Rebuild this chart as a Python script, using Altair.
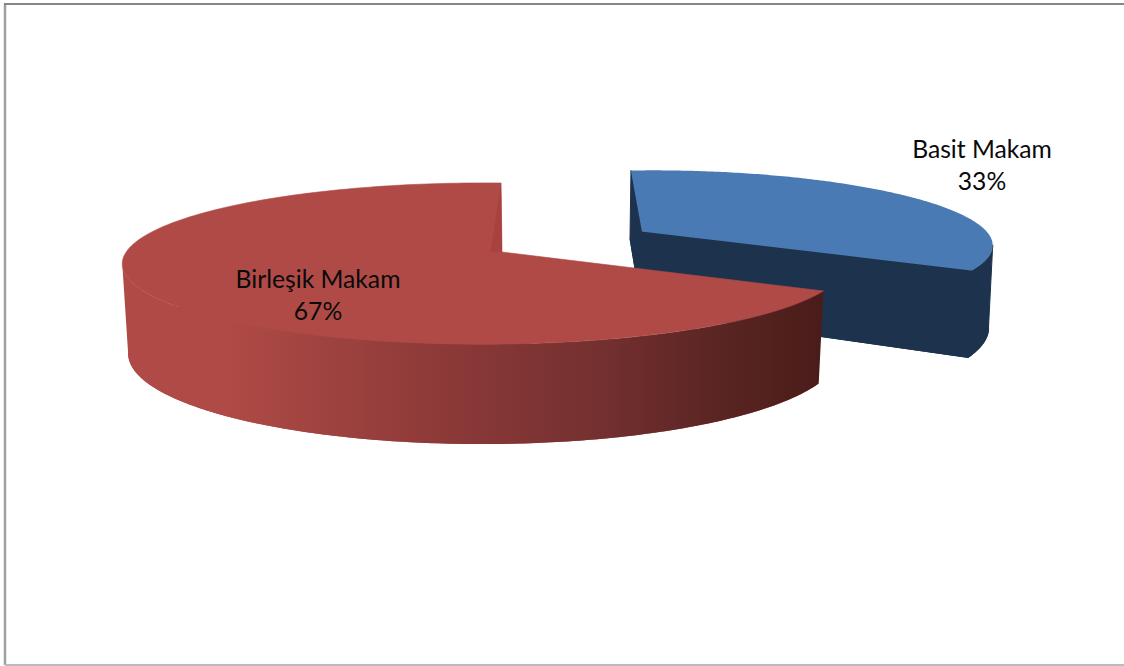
import numpy as np
import pandas as pd
import altair as alt

# Pie contents
categories = ["Basit Makam", "Birleşik Makam"]
shares = [33, 67]
label_x = [982, 318]
label_y = [151, 281]

W, H = 1124, 666
split = 360 * shares[0] / sum(shares)

# Perspective view of each disc: canvas centre, x radius, y radius, depth skew,
# and how strongly the front (k) and right-hand (m) sides swell towards the viewer.
red_top = dict(cx=502, cy=252, r=357, b=78.9, s=1.1, k=0.143, m=-0.05)
red_low = dict(cx=505.5, cy=340, r=351, b=89.0, s=1.1, k=0.143, m=-0.06)
blue_top = dict(cx=642, cy=231.5, r=317, b=69.7, s=12.6, k=0.143, m=0.08)
blue_low = dict(cx=642, cy=311, r=313, b=83.0, s=13.7, k=0.143, m=0.08)

# Angles where each wall turns away from the viewer
red_turn = 262
blue_turn = 100


def project(view, deg, radius=1.0):
    t = np.radians(np.asarray(deg, float))
    across, toward = radius * np.sin(t), -radius * np.cos(t)
    w = 1 - view["k"] * toward - view["m"] * across
    return (
        view["cx"] + (view["r"] * across + view["s"] * toward) / w,
        view["cy"] + view["b"] * toward / w,
    )


def path(xs, ys):
    return pd.DataFrame({"x": xs, "y": ys, "i": np.arange(len(xs))})


def closed(*points):
    xs, ys = zip(*(points + points[:1]))
    return path(np.array(xs), np.array(ys))


def rim(view, start, end):
    return project(view, np.linspace(start, end, 181))


def slice_path(view, start, end):
    cx, cy = project(view, 0.0, 0.0)
    x, y = rim(view, start, end)
    return path(np.r_[cx, x, cx], np.r_[cy, y, cy])


def band_path(upper, lower, start, end):
    ux, uy = rim(upper, start, end)
    lx, ly = rim(lower, start, end)
    return path(np.r_[ux, lx[::-1], ux[0]], np.r_[uy, ly[::-1], uy[0]])


x_scale = alt.Scale(domain=[0, W], range=[0, W], nice=False, zero=False)
y_scale = alt.Scale(domain=[0, H], range=[0, H], nice=False, zero=False)


def polygon(frame, fill, seam=0):
    # seam > 0 outlines a polygon in its own colour so neighbours join up without a hairline
    mark = dict(fill=fill, interpolate="linear")
    if seam:
        mark.update(stroke=fill, strokeWidth=seam)
    else:
        mark.update(strokeWidth=0)
    return alt.Chart(frame).mark_line(**mark).encode(
        x=alt.X("x:Q", scale=x_scale, axis=None),
        y=alt.Y("y:Q", scale=y_scale, axis=None),
        order="i:Q",
    )


BLUE, BLUE_DARK = "#4A7AB3", "#1D324D"
RED, RED_NOTCH = "#AF4A46", "#A8413F"

red_wall_fill = alt.Gradient(
    gradient="linear", x1=0, x2=1, y1=0, y2=0,
    stops=[
        alt.GradientStop(offset=0, color="#AF4A46"),
        alt.GradientStop(offset=0.15, color="#AF4A46"),
        alt.GradientStop(offset=0.43, color="#8F3B39"),
        alt.GradientStop(offset=0.68, color="#743030"),
        alt.GradientStop(offset=0.85, color="#5A2523"),
        alt.GradientStop(offset=1, color="#4A1C19"),
    ],
)

# The cut face of the red slice seen behind its back edge
notch = closed(project(red_top, 0.0), project(red_top, 268.0, 0.032), project(red_top, 0.0, 0.0))

# The two flat faces of the blue slice
blue_back = closed(project(blue_top, 0.0), project(blue_low, 0.0),
                   project(blue_low, 0.0, 0.0), project(blue_top, 0.0, 0.0))
blue_front = closed(project(blue_top, split), project(blue_low, split),
                    project(blue_low, 0.0, 0.0), project(blue_top, 0.0, 0.0))

labels = pd.DataFrame({
    "x": label_x * 2,
    "y": label_y + [v + 32 for v in label_y],
    "text": categories + [f"{s}%" for s in shares],
})
text = alt.Chart(labels).mark_text(font="Lato", fontSize=24.7, color="#0A0A0A", align="center", baseline="middle").encode(
    x=alt.X("x:Q", scale=x_scale, axis=None),
    y=alt.Y("y:Q", scale=y_scale, axis=None),
    text="text:N",
)


def frame_rule(x, x2, y, y2, color, width):
    d = pd.DataFrame({"x": [x], "x2": [x2], "y": [y], "y2": [y2]})
    return alt.Chart(d).mark_rule(color=color, strokeWidth=width).encode(
        x=alt.X("x:Q", scale=x_scale, axis=None), x2="x2:Q",
        y=alt.Y("y:Q", scale=y_scale, axis=None), y2="y2:Q",
    )


chart = alt.layer(
    polygon(slice_path(blue_low, 0, split), BLUE_DARK, seam=1),
    polygon(blue_back, BLUE_DARK, seam=1),
    polygon(blue_front, BLUE_DARK, seam=1),
    polygon(band_path(blue_top, blue_low, blue_turn, split), BLUE_DARK, seam=1),
    polygon(slice_path(blue_top, 0, split), BLUE),
    polygon(slice_path(red_low, split, 360), RED),
    polygon(band_path(red_top, red_low, split, red_turn), red_wall_fill),
    polygon(slice_path(red_top, split, 360), RED, seam=0.6),
    polygon(notch, RED_NOTCH),
    text,
    frame_rule(5, 5, 4, 665, "#A0A0A0", 2.5),
    frame_rule(4, W, 4, 4, "#868686", 2),
    frame_rule(5, W, 665, 665, "#BBBBBB", 2),
).properties(
    width=W, height=H, padding=0,
    autosize=alt.AutoSizeParams(type="none"),
    background="white",
).configure_view(stroke=None)

chart.save("out.html", embed_options={"renderer": "svg", "actions": False})
